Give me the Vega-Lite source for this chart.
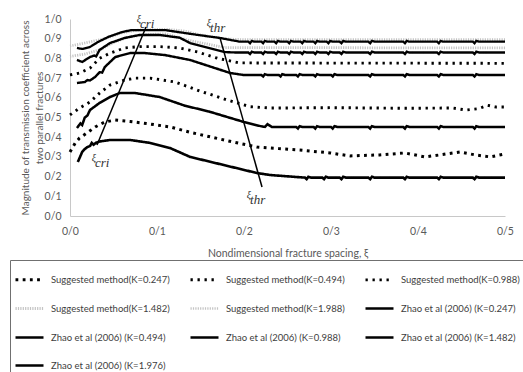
{
"$schema": "https://vega.github.io/schema/vega-lite/v6.json",
"width": 435, "height": 197,
"autosize": {"type": "none"},
"padding": {"left": 70, "top": 19, "right": 18, "bottom": 156},
"background": "white",
"config": {
  "view": {"stroke": null},
  "font": "Lato",
  "axis": {"grid": false, "ticks": false, "domainColor": "#c8c8c8", "labelColor": "#595959", "titleColor": "#595959", "labelFontSize": 10.5, "titleFontSize": 10.5, "titleFontWeight": "normal", "labelFlush": false, "labelOverlap": false},
  "legend": {"orient": "none", "legendX": -60, "legendY": 241, "direction": "horizontal", "columns": 3, "symbolType": "stroke", "symbolSize": 784, "labelFontSize": 9.5, "labelColor": "#404040", "strokeColor": "#707070", "padding": 4, "rowPadding": 7, "columnPadding": 14, "labelOffset": 6, "title": null, "labelLimit": 200}
},
"datasets": {
"main": [
{"s":"s1","x":0,"y":0.325},{"s":"s1","x":0.006,"y":0.37},{"s":"s1","x":0.011,"y":0.396},{"s":"s1","x":0.021,"y":0.426},{"s":"s1","x":0.029,"y":0.452},{"s":"s1","x":0.04,"y":0.477},{"s":"s1","x":0.052,"y":0.487},{"s":"s1","x":0.069,"y":0.48},{"s":"s1","x":0.092,"y":0.467},{"s":"s1","x":0.115,"y":0.452},{"s":"s1","x":0.138,"y":0.425},{"s":"s1","x":0.187,"y":0.376},{"s":"s1","x":0.215,"y":0.35},{"s":"s1","x":0.24,"y":0.342},{"s":"s1","x":0.264,"y":0.335},{"s":"s1","x":0.299,"y":0.32},{"s":"s1","x":0.322,"y":0.305},{"s":"s1","x":0.356,"y":0.31},{"s":"s1","x":0.385,"y":0.32},{"s":"s1","x":0.408,"y":0.3},{"s":"s1","x":0.425,"y":0.31},{"s":"s1","x":0.448,"y":0.325},{"s":"s1","x":0.466,"y":0.31},{"s":"s1","x":0.483,"y":0.3},{"s":"s1","x":0.5,"y":0.315},
{"s":"s2","x":0,"y":0.513},{"s":"s2","x":0.011,"y":0.548},{"s":"s2","x":0.023,"y":0.579},{"s":"s2","x":0.034,"y":0.624},{"s":"s2","x":0.046,"y":0.665},{"s":"s2","x":0.063,"y":0.69},{"s":"s2","x":0.075,"y":0.7},{"s":"s2","x":0.092,"y":0.7},{"s":"s2","x":0.121,"y":0.68},{"s":"s2","x":0.149,"y":0.635},{"s":"s2","x":0.18,"y":0.59},{"s":"s2","x":0.207,"y":0.555},{"s":"s2","x":0.23,"y":0.548},{"s":"s2","x":0.3,"y":0.55},{"s":"s2","x":0.38,"y":0.547},{"s":"s2","x":0.44,"y":0.548},{"s":"s2","x":0.455,"y":0.538},{"s":"s2","x":0.47,"y":0.545},{"s":"s2","x":0.48,"y":0.562},{"s":"s2","x":0.49,"y":0.553},{"s":"s2","x":0.5,"y":0.553},
{"s":"s3","x":0,"y":0.716},{"s":"s3","x":0.011,"y":0.726},{"s":"s3","x":0.023,"y":0.751},{"s":"s3","x":0.034,"y":0.8},{"s":"s3","x":0.046,"y":0.827},{"s":"s3","x":0.063,"y":0.853},{"s":"s3","x":0.08,"y":0.86},{"s":"s3","x":0.103,"y":0.86},{"s":"s3","x":0.126,"y":0.853},{"s":"s3","x":0.147,"y":0.832},{"s":"s3","x":0.17,"y":0.8},{"s":"s3","x":0.195,"y":0.777},{"s":"s3","x":0.5,"y":0.775},
{"s":"s4","x":0,"y":0.81},{"s":"s4","x":0.017,"y":0.822},{"s":"s4","x":0.035,"y":0.845},{"s":"s4","x":0.05,"y":0.88},{"s":"s4","x":0.065,"y":0.905},{"s":"s4","x":0.085,"y":0.92},{"s":"s4","x":0.11,"y":0.925},{"s":"s4","x":0.138,"y":0.89},{"s":"s4","x":0.178,"y":0.855},{"s":"s4","x":0.5,"y":0.853},
{"s":"s5","x":0,"y":0.863},{"s":"s5","x":0.017,"y":0.878},{"s":"s5","x":0.04,"y":0.9},{"s":"s5","x":0.06,"y":0.93},{"s":"s5","x":0.08,"y":0.945},{"s":"s5","x":0.11,"y":0.948},{"s":"s5","x":0.13,"y":0.94},{"s":"s5","x":0.15,"y":0.92},{"s":"s5","x":0.175,"y":0.9},{"s":"s5","x":0.2,"y":0.895},{"s":"s5","x":0.5,"y":0.895},
{"s":"z1","x":0.009,"y":0.274},{"s":"z1","x":0.014,"y":0.325},{"s":"z1","x":0.017,"y":0.34},{"s":"z1","x":0.02,"y":0.35},{"s":"z1","x":0.023,"y":0.355},{"s":"z1","x":0.025,"y":0.371},{"s":"z1","x":0.027,"y":0.362},{"s":"z1","x":0.03,"y":0.372},{"s":"z1","x":0.034,"y":0.378},{"s":"z1","x":0.046,"y":0.386},{"s":"z1","x":0.069,"y":0.386},{"s":"z1","x":0.092,"y":0.371},{"s":"z1","x":0.115,"y":0.345},{"s":"z1","x":0.138,"y":0.3},{"s":"z1","x":0.215,"y":0.218},{"s":"z1","x":0.23,"y":0.208},{"s":"z1","x":0.26,"y":0.198},
{"s":"z1","x":0.27,"y":0.195},{"s":"z1","x":0.272,"y":0.187},{"s":"z1","x":0.274,"y":0.199},{"s":"z1","x":0.277,"y":0.195},
{"s":"z1","x":0.29,"y":0.195},{"s":"z1","x":0.292,"y":0.187},{"s":"z1","x":0.294,"y":0.199},{"s":"z1","x":0.297,"y":0.195},
{"s":"z1","x":0.31,"y":0.195},{"s":"z1","x":0.312,"y":0.187},{"s":"z1","x":0.314,"y":0.199},{"s":"z1","x":0.317,"y":0.195},
{"s":"z1","x":0.343,"y":0.195},{"s":"z1","x":0.345,"y":0.187},{"s":"z1","x":0.347,"y":0.199},{"s":"z1","x":0.35,"y":0.195},
{"s":"z1","x":0.383,"y":0.195},{"s":"z1","x":0.385,"y":0.187},{"s":"z1","x":0.387,"y":0.199},{"s":"z1","x":0.39,"y":0.195},
{"s":"z1","x":0.422,"y":0.195},{"s":"z1","x":0.424,"y":0.187},{"s":"z1","x":0.426,"y":0.199},{"s":"z1","x":0.429,"y":0.195},
{"s":"z1","x":0.463,"y":0.195},{"s":"z1","x":0.465,"y":0.187},{"s":"z1","x":0.467,"y":0.199},{"s":"z1","x":0.47,"y":0.195},
{"s":"z1","x":0.5,"y":0.195},
{"s":"z2","x":0.008,"y":0.447},{"s":"z2","x":0.012,"y":0.47},{"s":"z2","x":0.014,"y":0.462},{"s":"z2","x":0.017,"y":0.5},{"s":"z2","x":0.02,"y":0.51},{"s":"z2","x":0.023,"y":0.538},{"s":"z2","x":0.034,"y":0.574},{"s":"z2","x":0.046,"y":0.604},{"s":"z2","x":0.057,"y":0.624},{"s":"z2","x":0.075,"y":0.624},{"s":"z2","x":0.103,"y":0.604},{"s":"z2","x":0.132,"y":0.56},{"s":"z2","x":0.16,"y":0.53},{"s":"z2","x":0.2,"y":0.477},{"s":"z2","x":0.22,"y":0.455},{"s":"z2","x":0.224,"y":0.452},{"s":"z2","x":0.227,"y":0.466},{"s":"z2","x":0.232,"y":0.452},
{"s":"z2","x":0.26,"y":0.452},{"s":"z2","x":0.262,"y":0.444},{"s":"z2","x":0.264,"y":0.456},{"s":"z2","x":0.267,"y":0.452},
{"s":"z2","x":0.28,"y":0.452},{"s":"z2","x":0.282,"y":0.444},{"s":"z2","x":0.284,"y":0.456},{"s":"z2","x":0.287,"y":0.452},
{"s":"z2","x":0.3,"y":0.452},{"s":"z2","x":0.302,"y":0.444},{"s":"z2","x":0.304,"y":0.456},{"s":"z2","x":0.307,"y":0.452},
{"s":"z2","x":0.343,"y":0.452},{"s":"z2","x":0.345,"y":0.444},{"s":"z2","x":0.347,"y":0.456},{"s":"z2","x":0.35,"y":0.452},
{"s":"z2","x":0.383,"y":0.452},{"s":"z2","x":0.385,"y":0.444},{"s":"z2","x":0.387,"y":0.456},{"s":"z2","x":0.39,"y":0.452},
{"s":"z2","x":0.422,"y":0.452},{"s":"z2","x":0.424,"y":0.444},{"s":"z2","x":0.426,"y":0.456},{"s":"z2","x":0.429,"y":0.452},
{"s":"z2","x":0.463,"y":0.452},{"s":"z2","x":0.465,"y":0.444},{"s":"z2","x":0.467,"y":0.456},{"s":"z2","x":0.47,"y":0.452},
{"s":"z2","x":0.5,"y":0.452},
{"s":"z3","x":0.008,"y":0.675},{"s":"z3","x":0.017,"y":0.68},{"s":"z3","x":0.02,"y":0.69},{"s":"z3","x":0.023,"y":0.688},{"s":"z3","x":0.029,"y":0.706},{"s":"z3","x":0.034,"y":0.73},{"s":"z3","x":0.037,"y":0.728},{"s":"z3","x":0.04,"y":0.756},{"s":"z3","x":0.052,"y":0.807},{"s":"z3","x":0.069,"y":0.827},{"s":"z3","x":0.086,"y":0.827},{"s":"z3","x":0.109,"y":0.817},{"s":"z3","x":0.138,"y":0.792},{"s":"z3","x":0.184,"y":0.726},{"s":"z3","x":0.199,"y":0.716},
{"s":"z3","x":0.22,"y":0.716},{"s":"z3","x":0.222,"y":0.708},{"s":"z3","x":0.224,"y":0.72},{"s":"z3","x":0.227,"y":0.716},
{"s":"z3","x":0.24,"y":0.716},{"s":"z3","x":0.242,"y":0.708},{"s":"z3","x":0.244,"y":0.72},{"s":"z3","x":0.247,"y":0.716},
{"s":"z3","x":0.26,"y":0.716},{"s":"z3","x":0.262,"y":0.708},{"s":"z3","x":0.264,"y":0.72},{"s":"z3","x":0.267,"y":0.716},
{"s":"z3","x":0.28,"y":0.716},{"s":"z3","x":0.282,"y":0.708},{"s":"z3","x":0.284,"y":0.72},{"s":"z3","x":0.287,"y":0.716},
{"s":"z3","x":0.3,"y":0.716},{"s":"z3","x":0.302,"y":0.708},{"s":"z3","x":0.304,"y":0.72},{"s":"z3","x":0.307,"y":0.716},
{"s":"z3","x":0.343,"y":0.716},{"s":"z3","x":0.345,"y":0.708},{"s":"z3","x":0.347,"y":0.72},{"s":"z3","x":0.35,"y":0.716},
{"s":"z3","x":0.383,"y":0.716},{"s":"z3","x":0.385,"y":0.708},{"s":"z3","x":0.387,"y":0.72},{"s":"z3","x":0.39,"y":0.716},
{"s":"z3","x":0.422,"y":0.716},{"s":"z3","x":0.424,"y":0.708},{"s":"z3","x":0.426,"y":0.72},{"s":"z3","x":0.429,"y":0.716},
{"s":"z3","x":0.463,"y":0.716},{"s":"z3","x":0.465,"y":0.708},{"s":"z3","x":0.467,"y":0.72},{"s":"z3","x":0.47,"y":0.716},
{"s":"z3","x":0.5,"y":0.716},
{"s":"z4","x":0.008,"y":0.792},{"s":"z4","x":0.014,"y":0.782},{"s":"z4","x":0.023,"y":0.807},{"s":"z4","x":0.028,"y":0.815},{"s":"z4","x":0.03,"y":0.81},{"s":"z4","x":0.034,"y":0.843},{"s":"z4","x":0.046,"y":0.878},{"s":"z4","x":0.063,"y":0.904},{"s":"z4","x":0.08,"y":0.919},{"s":"z4","x":0.103,"y":0.919},{"s":"z4","x":0.126,"y":0.905},{"s":"z4","x":0.138,"y":0.878},{"s":"z4","x":0.178,"y":0.832},{"s":"z4","x":0.19,"y":0.83},
{"s":"z4","x":0.205,"y":0.83},{"s":"z4","x":0.207,"y":0.822},{"s":"z4","x":0.209,"y":0.834},{"s":"z4","x":0.212,"y":0.83},
{"s":"z4","x":0.22,"y":0.83},{"s":"z4","x":0.222,"y":0.822},{"s":"z4","x":0.224,"y":0.834},{"s":"z4","x":0.227,"y":0.83},
{"s":"z4","x":0.235,"y":0.83},{"s":"z4","x":0.237,"y":0.822},{"s":"z4","x":0.239,"y":0.834},{"s":"z4","x":0.242,"y":0.83},
{"s":"z4","x":0.25,"y":0.83},{"s":"z4","x":0.252,"y":0.822},{"s":"z4","x":0.254,"y":0.834},{"s":"z4","x":0.257,"y":0.83},
{"s":"z4","x":0.265,"y":0.83},{"s":"z4","x":0.267,"y":0.822},{"s":"z4","x":0.269,"y":0.834},{"s":"z4","x":0.272,"y":0.83},
{"s":"z4","x":0.28,"y":0.83},{"s":"z4","x":0.282,"y":0.822},{"s":"z4","x":0.284,"y":0.834},{"s":"z4","x":0.287,"y":0.83},
{"s":"z4","x":0.295,"y":0.83},{"s":"z4","x":0.297,"y":0.822},{"s":"z4","x":0.299,"y":0.834},{"s":"z4","x":0.302,"y":0.83},
{"s":"z4","x":0.31,"y":0.83},{"s":"z4","x":0.312,"y":0.822},{"s":"z4","x":0.314,"y":0.834},{"s":"z4","x":0.317,"y":0.83},
{"s":"z4","x":0.343,"y":0.83},{"s":"z4","x":0.345,"y":0.822},{"s":"z4","x":0.347,"y":0.834},{"s":"z4","x":0.35,"y":0.83},
{"s":"z4","x":0.383,"y":0.83},{"s":"z4","x":0.385,"y":0.822},{"s":"z4","x":0.387,"y":0.834},{"s":"z4","x":0.39,"y":0.83},
{"s":"z4","x":0.422,"y":0.83},{"s":"z4","x":0.424,"y":0.822},{"s":"z4","x":0.426,"y":0.834},{"s":"z4","x":0.429,"y":0.83},
{"s":"z4","x":0.463,"y":0.83},{"s":"z4","x":0.465,"y":0.822},{"s":"z4","x":0.467,"y":0.834},{"s":"z4","x":0.47,"y":0.83},
{"s":"z4","x":0.5,"y":0.83},
{"s":"z5","x":0.008,"y":0.853},{"s":"z5","x":0.014,"y":0.848},{"s":"z5","x":0.023,"y":0.858},{"s":"z5","x":0.032,"y":0.883},{"s":"z5","x":0.044,"y":0.909},{"s":"z5","x":0.06,"y":0.934},{"s":"z5","x":0.071,"y":0.944},{"s":"z5","x":0.094,"y":0.944},{"s":"z5","x":0.109,"y":0.944},{"s":"z5","x":0.124,"y":0.934},{"s":"z5","x":0.147,"y":0.919},{"s":"z5","x":0.172,"y":0.904},{"s":"z5","x":0.195,"y":0.885},
{"s":"z5","x":0.205,"y":0.885},{"s":"z5","x":0.207,"y":0.877},{"s":"z5","x":0.209,"y":0.889},{"s":"z5","x":0.212,"y":0.885},
{"s":"z5","x":0.22,"y":0.885},{"s":"z5","x":0.222,"y":0.877},{"s":"z5","x":0.224,"y":0.889},{"s":"z5","x":0.227,"y":0.885},
{"s":"z5","x":0.235,"y":0.885},{"s":"z5","x":0.237,"y":0.877},{"s":"z5","x":0.239,"y":0.889},{"s":"z5","x":0.242,"y":0.885},
{"s":"z5","x":0.25,"y":0.885},{"s":"z5","x":0.252,"y":0.877},{"s":"z5","x":0.254,"y":0.889},{"s":"z5","x":0.257,"y":0.885},
{"s":"z5","x":0.265,"y":0.885},{"s":"z5","x":0.267,"y":0.877},{"s":"z5","x":0.269,"y":0.889},{"s":"z5","x":0.272,"y":0.885},
{"s":"z5","x":0.28,"y":0.885},{"s":"z5","x":0.282,"y":0.877},{"s":"z5","x":0.284,"y":0.889},{"s":"z5","x":0.287,"y":0.885},
{"s":"z5","x":0.295,"y":0.885},{"s":"z5","x":0.297,"y":0.877},{"s":"z5","x":0.299,"y":0.889},{"s":"z5","x":0.302,"y":0.885},
{"s":"z5","x":0.31,"y":0.885},{"s":"z5","x":0.312,"y":0.877},{"s":"z5","x":0.314,"y":0.889},{"s":"z5","x":0.317,"y":0.885},
{"s":"z5","x":0.343,"y":0.885},{"s":"z5","x":0.345,"y":0.877},{"s":"z5","x":0.347,"y":0.889},{"s":"z5","x":0.35,"y":0.885},
{"s":"z5","x":0.383,"y":0.885},{"s":"z5","x":0.385,"y":0.877},{"s":"z5","x":0.387,"y":0.889},{"s":"z5","x":0.39,"y":0.885},
{"s":"z5","x":0.422,"y":0.885},{"s":"z5","x":0.424,"y":0.877},{"s":"z5","x":0.426,"y":0.889},{"s":"z5","x":0.429,"y":0.885},
{"s":"z5","x":0.463,"y":0.885},{"s":"z5","x":0.465,"y":0.877},{"s":"z5","x":0.467,"y":0.889},{"s":"z5","x":0.47,"y":0.885},
{"s":"z5","x":0.5,"y":0.885}
],
"ann": [
{"g":"cri","x":0.031,"y":0.36},{"g":"cri","x":0.0874,"y":0.959},
{"g":"thr","x":0.1724,"y":0.904},{"g":"thr","x":0.2207,"y":0.147}
],
"lab": [
{"t":"cri","x":0.0805,"y":0.975},{"t":"cri","x":0.0287,"y":0.269},
{"t":"thr","x":0.161,"y":0.954},{"t":"thr","x":0.207,"y":0.081}
]
},
"encoding": {
  "x": {"field": "x", "type": "quantitative", "scale": {"domain": [0, 0.5], "nice": false},
        "axis": {"values": [0, 0.1, 0.2, 0.3, 0.4, 0.5], "labelExpr": "replace(format(datum.value, '.1f'), '.', '/')", "title": "Nondimensional fracture spacing, ξ", "labelPadding": 10, "titlePadding": 12, "labelOverlap": false}},
  "y": {"field": "y", "type": "quantitative", "scale": {"domain": [0, 1], "nice": false},
        "axis": {"values": [0, 0.1, 0.2, 0.3, 0.4, 0.5, 0.6, 0.7, 0.8, 0.9, 1], "labelExpr": "replace(format(datum.value, '.1f'), '.', '/')", "title": ["Magnitude of transmission coefficient across", "two parallel fractures"], "labelPadding": 9, "titlePadding": 0, "titleLineHeight": 14, "titleFontSize": 10, "labelOverlap": false}}
},
"layer": [
{
 "data": {"name": "main"},
 "mark": {"type": "line", "strokeCap": "butt"},
 "encoding": {
  "color": {"field": "s", "type": "nominal",
            "scale": {"domain": ["s1","s2","s3","s4","s5","z1","z2","z3","z4","z5"], "range": ["#000000","#000000","#000000","#c4c4c4","#c4c4c4","#000000","#000000","#000000","#000000","#000000"]},
            "legend": {"labelExpr": "({'s1':'Suggested method(K=0.247)','s2':'Suggested method(K=0.494)','s3':'Suggested method(K=0.988)','s4':'Suggested method(K=1.482)','s5':'Suggested method(K=1.988)','z1':'Zhao et al (2006) (K=0.247)','z2':'Zhao et al (2006) (K=0.494)','z3':'Zhao et al (2006) (K=0.988)','z4':'Zhao et al (2006) (K=1.482)','z5':'Zhao et al (2006) (K=1.976)'})[datum.label]"}},
  "strokeDash": {"field": "s", "type": "nominal",
            "scale": {"domain": ["s1","s2","s3","s4","s5","z1","z2","z3","z4","z5"], "range": [[2.8,4.4],[2.3,4.7],[2.3,4.7],[1.2,1.2],[1.2,1.2],[1,0],[1,0],[1,0],[1,0],[1,0]]},
            "legend": {"labelExpr": "({'s1':'Suggested method(K=0.247)','s2':'Suggested method(K=0.494)','s3':'Suggested method(K=0.988)','s4':'Suggested method(K=1.482)','s5':'Suggested method(K=1.988)','z1':'Zhao et al (2006) (K=0.247)','z2':'Zhao et al (2006) (K=0.494)','z3':'Zhao et al (2006) (K=0.988)','z4':'Zhao et al (2006) (K=1.482)','z5':'Zhao et al (2006) (K=1.976)'})[datum.label]"}},
  "strokeWidth": {"field": "s", "type": "nominal",
            "scale": {"domain": ["s1","s2","s3","s4","s5","z1","z2","z3","z4","z5"], "range": [3,2.3,2.3,1,1,1.7,1.7,1.7,1.7,1.7]},
            "legend": {"labelExpr": "({'s1':'Suggested method(K=0.247)','s2':'Suggested method(K=0.494)','s3':'Suggested method(K=0.988)','s4':'Suggested method(K=1.482)','s5':'Suggested method(K=1.988)','z1':'Zhao et al (2006) (K=0.247)','z2':'Zhao et al (2006) (K=0.494)','z3':'Zhao et al (2006) (K=0.988)','z4':'Zhao et al (2006) (K=1.482)','z5':'Zhao et al (2006) (K=1.976)'})[datum.label]"}}
 }
},
{
 "data": {"name": "ann"},
 "mark": {"type": "line", "color": "#000000", "strokeWidth": 1.5},
 "encoding": {"detail": {"field": "g", "type": "nominal"}}
},
{
 "data": {"name": "lab"},
 "mark": {"type": "text", "font": "Liberation Serif", "fontStyle": "italic", "fontSize": 13, "align": "left", "baseline": "middle", "color": "#333333"},
 "encoding": {"text": {"field": "t"}}
},
{
 "data": {"name": "lab"},
 "mark": {"type": "text", "font": "Liberation Serif", "fontStyle": "italic", "fontSize": 10, "align": "right", "baseline": "middle", "dy": -5, "dx": 1, "text": "ξ", "color": "#333333"},
 "encoding": {}
}
]
}
